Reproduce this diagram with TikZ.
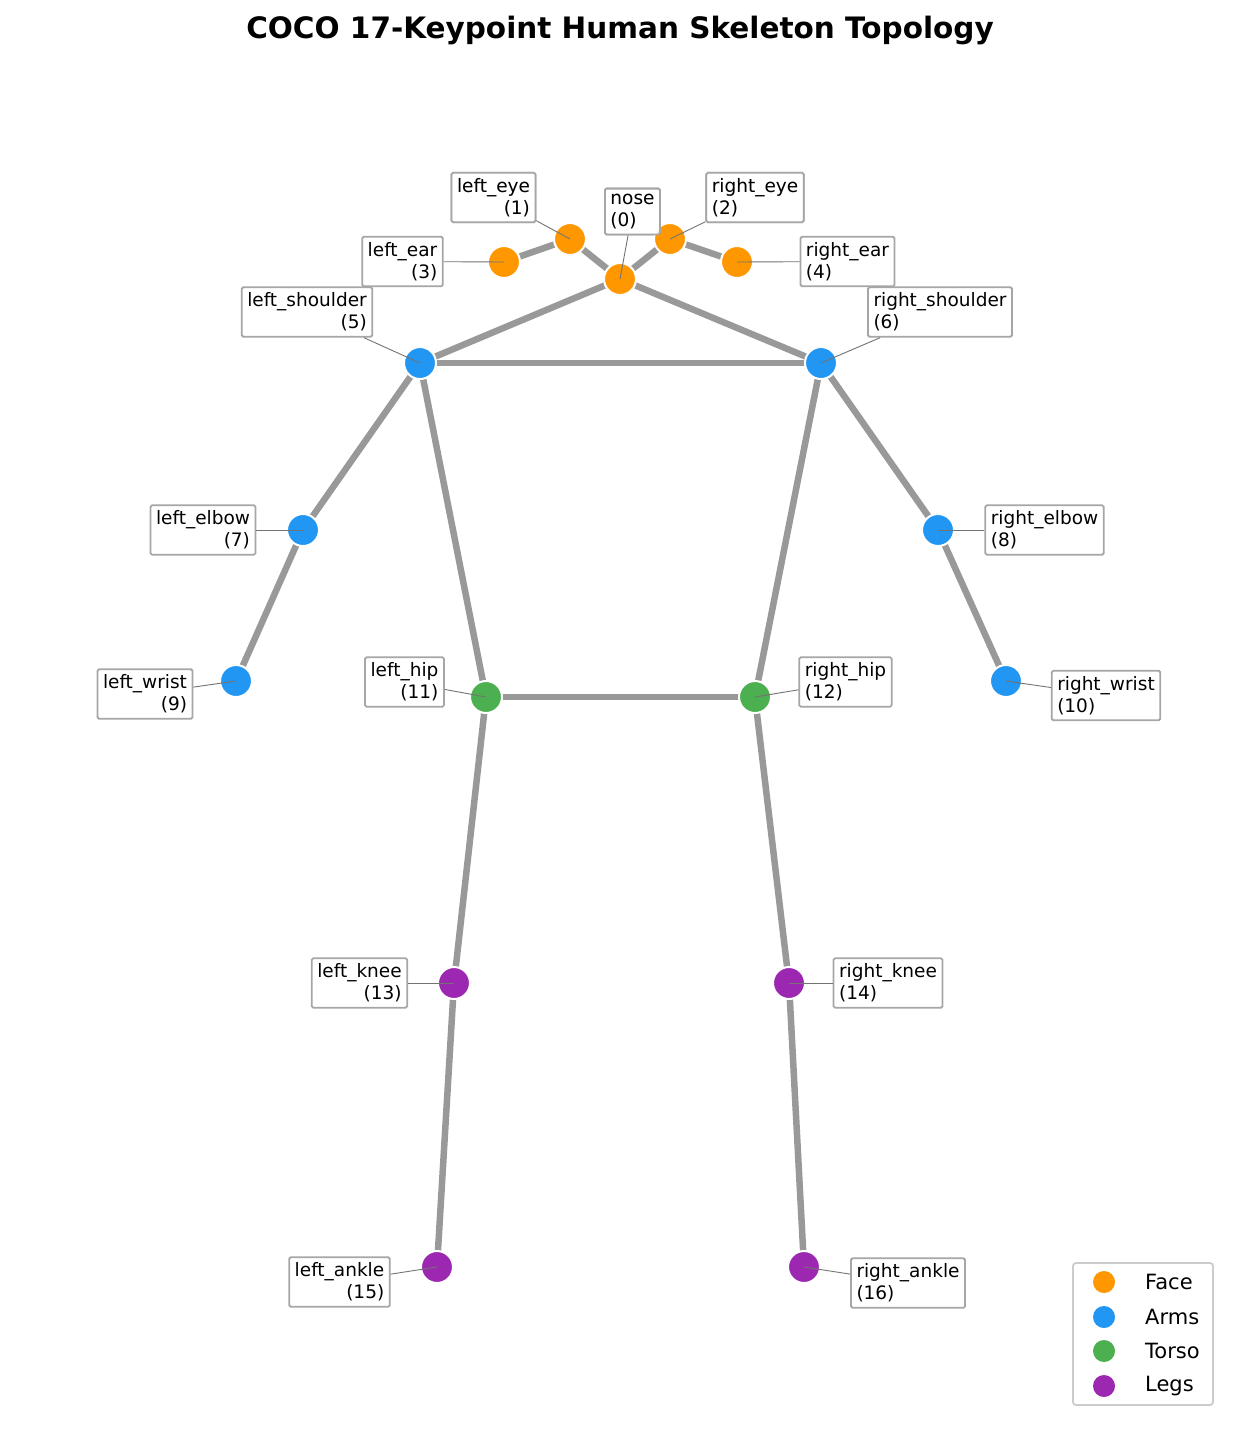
\documentclass[tikz,border=0pt]{standalone}
\usepackage{fontspec}
\setmainfont{DejaVu Sans}
\begin{document}
\begin{tikzpicture}[x=1pt,y=-1pt,
  edge/.style={line width=6.5pt,color=black!40},
  kp/.style={circle,minimum size=32pt,inner sep=0pt,draw=white,line width=2pt,fill=#1},
  lblL/.style={draw=black!35,line width=1.8pt,fill=white,fill opacity=0.85,text opacity=1,rounded corners=1.5pt,align=right,font=\fontsize{18.5}{22}\selectfont,inner sep=5.5pt},
  lblR/.style={lblL,align=left},
  lead/.style={line width=0.9pt,color=black!55}]
\definecolor{face}{HTML}{FF9800}
\definecolor{arms}{HTML}{2196F3}
\definecolor{torso}{HTML}{4CAF50}
\definecolor{legs}{HTML}{9C27B0}
\useasboundingbox (0,0) rectangle (1242,1436);
\node[font=\bfseries\fontsize{29.5}{34}\selectfont] (title) at (620,30) {COCO 17-Keypoint Human Skeleton Topology};
\coordinate (p0) at (620,279);
\coordinate (p1) at (570,239);
\coordinate (p2) at (670,239);
\coordinate (p3) at (504,262);
\coordinate (p4) at (737,262);
\coordinate (p5) at (420,363);
\coordinate (p6) at (821,363);
\coordinate (p7) at (303,530);
\coordinate (p8) at (938,530);
\coordinate (p9) at (236,681);
\coordinate (p10) at (1006,681);
\coordinate (p11) at (486,697);
\coordinate (p12) at (755,697);
\coordinate (p13) at (454,983);
\coordinate (p14) at (789,983);
\coordinate (p15) at (437,1267);
\coordinate (p16) at (804,1267);
\foreach \a/\b in {0/1,0/2,1/3,2/4,0/5,0/6,5/6,5/7,7/9,6/8,8/10,5/11,6/12,11/12,11/13,13/15,12/14,14/16}
  \draw[edge] (p\a) -- (p\b);
\node[lblL] (l1) at (493.5,197.5) {left\_eye\\(1)};
\node[lblR] (l0) at (632.5,211.5) {nose\\(0)};
\node[lblR] (l2) at (755,197.5) {right\_eye\\(2)};
\node[lblL] (l3) at (402.5,261.5) {left\_ear\\(3)};
\node[lblR] (l4) at (847.5,261.5) {right\_ear\\(4)};
\node[lblL] (l5) at (307,312) {left\_shoulder\\(5)};
\node[lblR] (l6) at (940,312) {right\_shoulder\\(6)};
\node[lblL] (l7) at (203,530) {left\_elbow\\(7)};
\node[lblR] (l8) at (1044.5,530) {right\_elbow\\(8)};
\node[lblL] (l9) at (145,694) {left\_wrist\\(9)};
\node[lblR] (l10) at (1106,695.5) {right\_wrist\\(10)};
\node[lblL] (l11) at (404.5,682) {left\_hip\\(11)};
\node[lblR] (l12) at (845.5,682) {right\_hip\\(12)};
\node[lblL] (l13) at (359.5,983) {left\_knee\\(13)};
\node[lblR] (l14) at (888,983) {right\_knee\\(14)};
\node[lblL] (l15) at (339.5,1282) {left\_ankle\\(15)};
\node[lblR] (l16) at (908,1283) {right\_ankle\\(16)};
\foreach \i in {0,...,4} \node[kp=face] (k\i) at (p\i) {};
\foreach \i in {5,...,10} \node[kp=arms] (k\i) at (p\i) {};
\foreach \i in {11,12} \node[kp=torso] (k\i) at (p\i) {};
\foreach \i in {13,...,16} \node[kp=legs] (k\i) at (p\i) {};
\foreach \i in {0,...,16} \draw[lead] (l\i) -- (p\i);
\node[lblL] at (493.5,197.5) {left\_eye\\(1)};
\node[lblR] at (632.5,211.5) {nose\\(0)};
\node[lblR] at (755,197.5) {right\_eye\\(2)};
\node[draw=black!20,line width=1.8pt,rounded corners=3pt,minimum width=140pt,minimum height=142pt,fill=white] (legend) at (1143,1334) {};
\foreach \c/\t/\y [count=\n] in {face/Face/1282,arms/Arms/1317,torso/Torso/1351,legs/Legs/1386}{
  \node[circle,fill=\c,minimum size=22pt,inner sep=0pt] (lg\n) at (1104,\y) {};
  \node[anchor=west,font=\fontsize{21}{24}\selectfont,inner sep=0pt] (lt\n) at (1145,\y) {\t};
}
\end{tikzpicture}
\end{document}
